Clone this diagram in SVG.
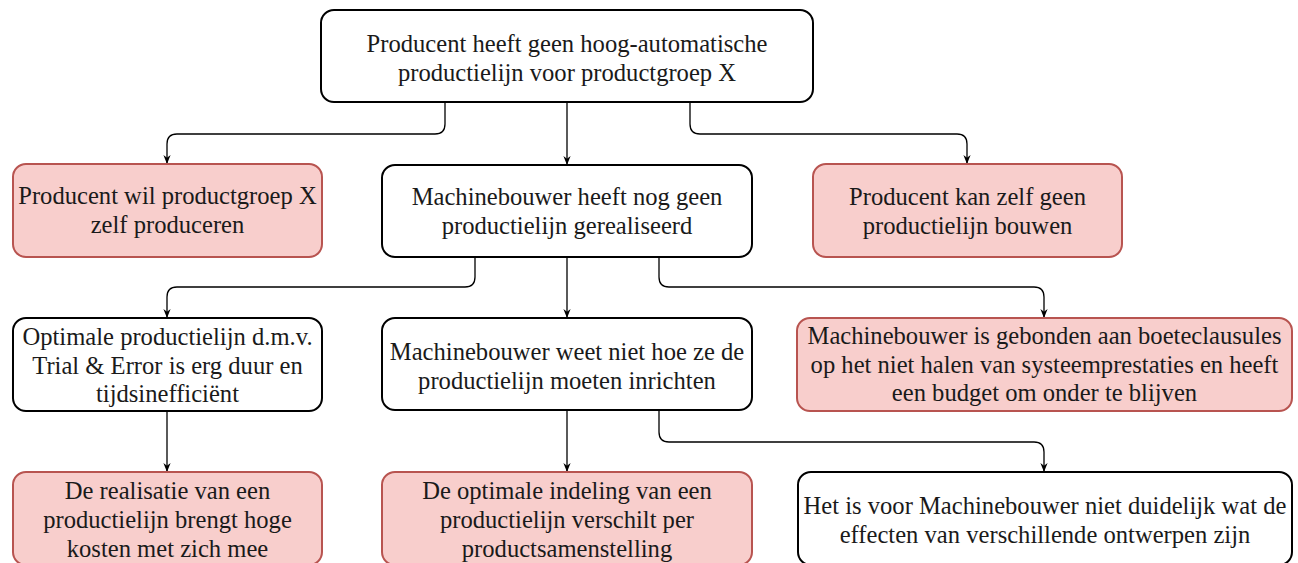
<svg xmlns="http://www.w3.org/2000/svg" width="1298" height="563" viewBox="0 0 1298 563">
<defs>
<style>
.n rect{fill:#ffffff;stroke:#000000;stroke-width:2}
.r rect{fill:#f8cecc;stroke:#b85450;stroke-width:2}
text{font-family:"Liberation Serif","Times New Roman",serif;font-size:24.6px;fill:#1a1a1a;text-anchor:middle}
.c path{fill:none;stroke:#000000;stroke-width:1.3}
</style>
<marker id="ah" viewBox="0 0 10 10" refX="10" refY="5" markerWidth="9" markerHeight="9" markerUnits="userSpaceOnUse" orient="auto">
<path d="M0,1 L10,5 L0,9 L3,5 Z" fill="#000000"/>
</marker>
</defs>
<rect width="1298" height="563" fill="#ffffff"/>
<g id="connectors" class="c">
<path d="M445,102 V124 Q445,134 435,134 H177 Q167,134 167,144 V164" marker-end="url(#ah)"/>
<path d="M567,102 V165" marker-end="url(#ah)"/>
<path d="M690,102 V124 Q690,134 700,134 H957 Q967,134 967,144 V164" marker-end="url(#ah)"/>
<path d="M475,257 V277 Q475,287 465,287 H177 Q167,287 167,297 V318" marker-end="url(#ah)"/>
<path d="M567,257 V318" marker-end="url(#ah)"/>
<path d="M659,257 V277 Q659,287 669,287 H1034 Q1044,287 1044,297 V318" marker-end="url(#ah)"/>
<path d="M167,411 V472" marker-end="url(#ah)"/>
<path d="M567,410 V472" marker-end="url(#ah)"/>
<path d="M659,410 V432 Q659,442 669,442 H1034 Q1044,442 1044,452 V472" marker-end="url(#ah)"/>
</g>
<g id="top" class="n">
<rect x="321" y="10" width="492" height="92" rx="13"/>
<text x="567" y="52">Producent heeft geen hoog-automatische</text>
<text x="567" y="81">productielijn voor productgroep X</text>
</g>
<g id="wil" class="r">
<rect x="13" y="164" width="309" height="93" rx="13"/>
<text x="167.5" y="204">Producent wil productgroep X</text>
<text x="167.5" y="233">zelf produceren</text>
</g>
<g id="geenlijn" class="n">
<rect x="382" y="165" width="370" height="92" rx="13"/>
<text x="567" y="205">Machinebouwer heeft nog geen</text>
<text x="567" y="234">productielijn gerealiseerd</text>
</g>
<g id="kanzelf" class="r">
<rect x="813" y="164" width="309" height="93" rx="13"/>
<text x="967.5" y="205">Producent kan zelf geen</text>
<text x="967.5" y="234">productielijn bouwen</text>
</g>
<g id="trial" class="n">
<rect x="13" y="318" width="309" height="93" rx="13"/>
<text x="167.5" y="345">Optimale productielijn d.m.v.</text>
<text x="167.5" y="374">Trial &amp; Error is erg duur en</text>
<text x="167.5" y="402">tijdsinefficiënt</text>
</g>
<g id="inrichten" class="n">
<rect x="382" y="318" width="370" height="92" rx="13"/>
<text x="567" y="360">Machinebouwer weet niet hoe ze de</text>
<text x="567" y="389">productielijn moeten inrichten</text>
</g>
<g id="boete" class="r">
<rect x="797" y="318" width="495" height="93" rx="13"/>
<text x="1044.5" y="344">Machinebouwer is gebonden aan boeteclausules</text>
<text x="1044.5" y="373">op het niet halen van systeemprestaties en heeft</text>
<text x="1044.5" y="401">een budget om onder te blijven</text>
</g>
<g id="kosten" class="r">
<rect x="13" y="472" width="309" height="93" rx="13"/>
<text x="167.5" y="499">De realisatie van een</text>
<text x="167.5" y="528">productielijn brengt hoge</text>
<text x="167.5" y="557">kosten met zich mee</text>
</g>
<g id="indeling" class="r">
<rect x="382" y="472" width="370" height="93" rx="13"/>
<text x="567" y="499">De optimale indeling van een</text>
<text x="567" y="528">productielijn verschilt per</text>
<text x="567" y="557">productsamenstelling</text>
</g>
<g id="effecten" class="n">
<rect x="798" y="472" width="494" height="93" rx="13"/>
<text x="1045" y="514">Het is voor Machinebouwer niet duidelijk wat de</text>
<text x="1045" y="543">effecten van verschillende ontwerpen zijn</text>
</g>
</svg>
